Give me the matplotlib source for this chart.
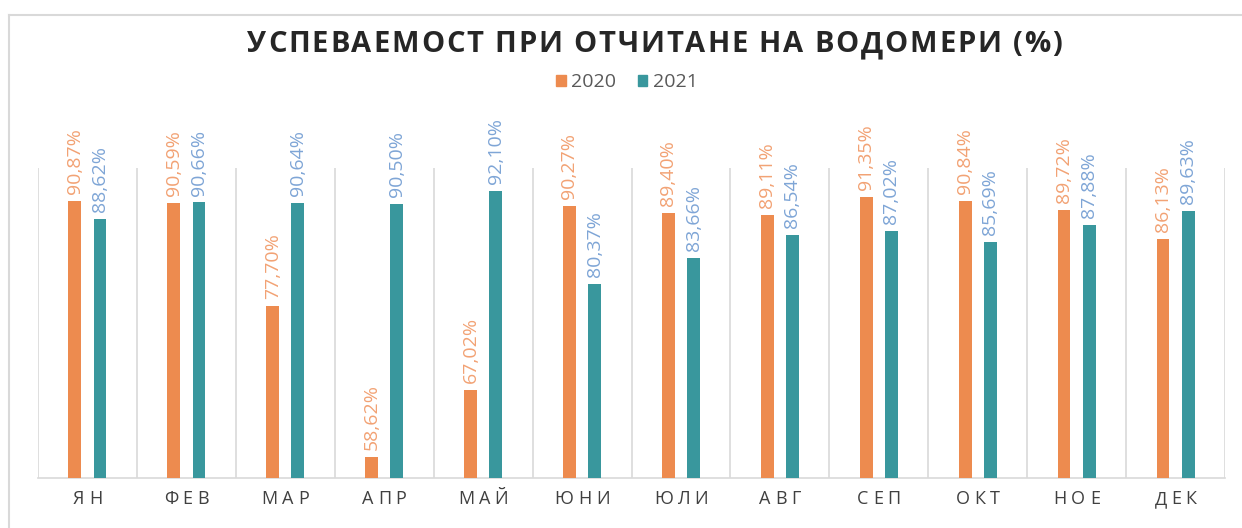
import numpy as np
import matplotlib
matplotlib.use("Agg")
import matplotlib.pyplot as plt
from matplotlib.patches import Patch
from matplotlib.transforms import IdentityTransform
from matplotlib.lines import Line2D

months = ["ЯН", "ФЕВ", "МАР", "АПР", "МАЙ", "ЮНИ", "ЮЛИ", "АВГ", "СЕП", "ОКТ", "НОЕ", "ДЕК"]
y2020 = [90.87, 90.59, 77.70, 58.62, 67.02, 90.27, 89.40, 89.11, 91.35, 90.84, 89.72, 86.13]
y2021 = [88.62, 90.66, 90.64, 90.50, 92.10, 80.37, 83.66, 86.54, 87.02, 85.69, 87.88, 89.63]
series = ["2020", "2021"]
title = "УСПЕВАЕМОСТ ПРИ ОТЧИТАНЕ НА ВОДОМЕРИ (%)"

bar_colors = ["#ED8B4F", "#39979D"]
label_colors = ["#F2A274", "#7EA5D6"]
grid_col = "#D9D9D9"

plt.rcParams['font.family'] = ['Open Sans', 'DejaVu Sans']

W, H = 1242, 528
L, R, T, B = 38, 1225, 168, 478
fig = plt.figure(figsize=(W / 100, H / 100), dpi=100)
ax = fig.add_axes([L / W, 1 - B / H, (R - L) / W, (B - T) / H])

x = np.arange(len(months))
bw = 0.13
off = 0.127
for k, vals in enumerate([y2020, y2021]):
    pos = x + (-off if k == 0 else off)
    ax.bar(pos, vals, width=bw, color=bar_colors[k], zorder=3)
    for p, v in zip(pos, vals):
        ax.annotate(f"{v:.2f}%".replace(".", ","), (p, v), xytext=(0, 5),
                    textcoords="offset points", rotation=90, ha="center", va="bottom",
                    fontsize=14, color=label_colors[k], annotation_clip=False)

ax.set_xlim(-0.5, len(months) - 0.5)
ax.set_ylim(56, 95)
for b in np.arange(-0.5, len(months), 1.0):
    ax.axvline(b, color=grid_col, lw=1.2, zorder=1)
for s in ["top", "right", "left"]:
    ax.spines[s].set_visible(False)
ax.spines["bottom"].set_color(grid_col)
ax.spines["bottom"].set_linewidth(1.2)
ax.set_yticks([])
ax.set_xticks([])

# chart area frame (left and top edges visible)
fig.add_artist(Line2D([9 / W, 9 / W], [0, 1 - 15 / H], color=grid_col, lw=1.5))
fig.add_artist(Line2D([9 / W, 1], [1 - 15 / H, 1 - 15 / H], color=grid_col, lw=1.5))

renderer = fig.canvas.get_renderer()


def width(s, kw):
    t = fig.text(0, 0, s + "|", **kw)
    t2 = fig.text(0, 0, "|", **kw)
    w = t.get_window_extent(renderer).width - t2.get_window_extent(renderer).width
    t.remove()
    t2.remove()
    return w


def spaced(s, xc, yc, sp, kw):
    total = width(s, kw) + sp * (len(s) - 1)
    x0 = xc - total / 2
    for i, ch in enumerate(s):
        if ch == " ":
            continue
        fig.text(x0 + width(s[:i], kw) + i * sp, H - yc, ch, transform=IdentityTransform(),
                 ha="left", va="center", **kw)


# letter-spaced title
tkw = dict(fontsize=21, fontweight="bold", color="#262626")
sp_title = (815 - width(title, tkw)) / (len(title) - 1)
spaced(title, 654.5, 45, sp_title, tkw)

# letter-spaced category labels
mkw = dict(fontsize=13, color="#404040")
step = (R - L) / len(months)
for i, m in enumerate(months):
    spaced(m, L + (i + 0.5) * step, 499, 4.5, mkw)

handles = [Patch(color=c) for c in bar_colors]
fig.legend(handles, series, loc="center", bbox_to_anchor=(627 / W, 1 - 82 / H), ncol=2,
           frameon=False, fontsize=14, labelcolor="#595959", handlelength=0.5,
           handleheight=0.5, handletextpad=0.3, columnspacing=1.1)

fig.savefig("out.png", dpi=100, facecolor="white")
